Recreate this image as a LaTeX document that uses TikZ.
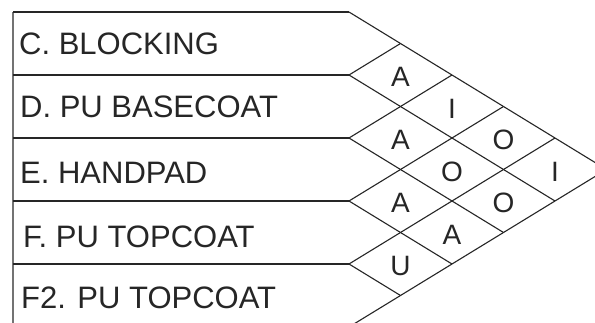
\documentclass[tikz,border=0pt]{standalone}
\usepackage{fontspec}
\setmainfont{Liberation Sans}
\begin{document}
\begin{tikzpicture}[x=1pt,y=-1pt,
  gridline/.style={draw=black!85,line width=1.1pt},
  deptlabel/.style={anchor=base west,inner sep=0pt,font=\fontsize{31}{31}\selectfont,text=black!85},
  rating/.style={inner sep=0pt,font=\fontsize{28}{28}\selectfont,text=black!85}]
\useasboundingbox (0,0) rectangle (595,323);
\clip (0,0) rectangle (595,323);
\fill[white] (0,0) rectangle (595,323);
% lattice coordinates
\foreach \n in {0,...,5}{
  \coordinate (E\n) at (13,{12+63*\n});
  \coordinate (L\n) at (349,{12+63*\n});
  \coordinate (U\n) at ({349+51.5*\n},{12+31.5*\n});
  \coordinate (B\n) at ({349+51.5*(5-\n)},{169.5+31.5*\n});
}
% left edge and row separators
\draw[draw=black!55,line width=1.6pt] (E0) -- (E5);
\foreach \n in {0,...,4}{ \draw[gridline] (E\n) -- (L\n); }
% diamond grid
\foreach \n in {0,...,5}{ \draw[gridline] (U\n) -- (L\n) -- (B\n); }
% department labels
\node[deptlabel] (c)  at (19,55)  {C. BLOCKING};
\node[deptlabel] (d)  at (20,118) {D. PU BASECOAT};
\node[deptlabel] (e)  at (20,184) {E. HANDPAD};
\node[deptlabel] (f)  at (23,248) {F. PU TOPCOAT};
\node[deptlabel] (f2) at (21,309) {F2. PU TOPCOAT};
% ratings
\node[rating] (cd)  at (400.5,77)   {A};
\node[rating] (de)  at (400.5,140)  {A};
\node[rating] (ef)  at (400.5,203)  {A};
\node[rating] (ff2) at (400.5,266)  {U};
\node[rating] (ce)  at (452,108.5)  {I};
\node[rating] (df)  at (452,171.5)  {O};
\node[rating] (ef2) at (452,234.5)  {A};
\node[rating] (cf)  at (503.5,140)  {O};
\node[rating] (df2) at (503.5,203)  {O};
\node[rating] (cf2) at (555,171.5)  {I};
\end{tikzpicture}
\end{document}
